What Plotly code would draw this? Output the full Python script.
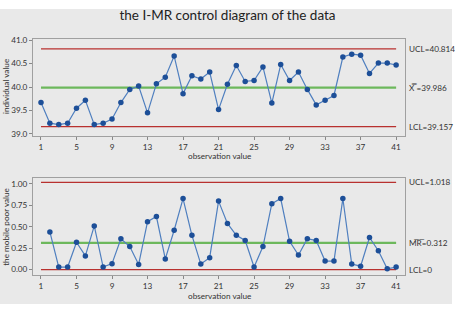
import plotly.graph_objects as go

obs = list(range(1, 42))
individual = [39.67, 39.23, 39.20, 39.23, 39.55, 39.72, 39.20, 39.23, 39.32, 39.67,
              39.95, 40.02, 39.45, 40.07, 40.21, 40.66, 39.86, 40.24, 40.17, 40.32,
              39.52, 40.06, 40.46, 40.12, 40.14, 40.43, 39.66, 40.48, 40.14, 40.32,
              39.95, 39.62, 39.72, 39.82, 40.64, 40.70, 40.68, 40.29, 40.51, 40.51, 40.47]
mr_obs = list(range(2, 42))
moving_range = [0.44, 0.03, 0.03, 0.32, 0.16, 0.51, 0.03, 0.07, 0.36, 0.27,
                0.06, 0.56, 0.62, 0.125, 0.46, 0.83, 0.40, 0.065, 0.14, 0.80,
                0.54, 0.40, 0.34, 0.03, 0.27, 0.77, 0.83, 0.33, 0.17, 0.36,
                0.34, 0.10, 0.10, 0.83, 0.065, 0.04, 0.375, 0.22, 0.01, 0.03]
i_ucl, i_mean, i_lcl = 40.814, 39.986, 39.157
mr_ucl, mr_mean, mr_lcl = 1.018, 0.312, 0.0
x_ticks = [1, 5, 9, 13, 17, 21, 25, 29, 33, 37, 41]
i_ticks = [39.0, 39.5, 40.0, 40.5, 41.0]
mr_ticks = [0.0, 0.25, 0.5, 0.75, 1.0]

RED = "#b8312f"
GREEN = "#6db85c"
LINE_BLUE = "#4f7fbf"
MARK_BLUE = "#1d4f98"
FONT = "Lato"
SMALL = 8.2

fig = go.Figure()

def limit(xs, y, color, width, xa, ya):
    fig.add_trace(go.Scatter(x=[xs[0], xs[-1]], y=[y, y], mode="lines",
                             line=dict(color=color, width=width),
                             xaxis=xa, yaxis=ya, hoverinfo="skip"))

limit(obs, i_ucl, RED, 1.3, "x", "y")
limit(obs, i_lcl, RED, 1.3, "x", "y")
limit(obs, i_mean, GREEN, 2.2, "x", "y")
fig.add_trace(go.Scatter(x=obs, y=individual, mode="lines+markers",
                         line=dict(color=LINE_BLUE, width=1.2),
                         marker=dict(color=MARK_BLUE, size=5.5),
                         xaxis="x", yaxis="y"))

limit(obs, mr_ucl, RED, 1.3, "x2", "y2")
limit(obs, mr_lcl, RED, 1.3, "x2", "y2")
limit(obs, mr_mean, GREEN, 2.2, "x2", "y2")
fig.add_trace(go.Scatter(x=mr_obs, y=moving_range, mode="lines+markers",
                         line=dict(color=LINE_BLUE, width=1.2),
                         marker=dict(color=MARK_BLUE, size=5.5),
                         xaxis="x2", yaxis="y2"))

W, H = 455, 311
xdom = [33 / W, 405 / W]
axis_common = dict(showline=True, mirror=True, linecolor="#a0a0a0", linewidth=1,
                   showgrid=False, zeroline=False, ticks="outside", ticklen=3,
                   tickcolor="#888", tickfont=dict(size=SMALL, color="#333", family=FONT))

fig.update_layout(
    width=W, height=H, margin=dict(l=0, r=0, t=0, b=0),
    paper_bgcolor="white", plot_bgcolor="white", showlegend=False,
    font=dict(family=FONT, color="#333"),
    xaxis=dict(domain=xdom, range=[0.1, 42.0], tickvals=x_ticks, anchor="y",
               **axis_common),
    yaxis=dict(domain=[1 - 135 / H, 1 - 36 / H], range=[38.958, 41.02],
               tickvals=i_ticks, tickformat=".1f", anchor="x", **axis_common),
    xaxis2=dict(domain=xdom, range=[0.1, 42.0], tickvals=x_ticks, anchor="y2",
                **axis_common),
    yaxis2=dict(domain=[1 - 277 / H, 1 - 178 / H], range=[-0.06, 1.07],
                tickvals=mr_ticks, tickformat=".2f", anchor="x2", **axis_common),
    shapes=[dict(type="rect", xref="paper", yref="paper", x0=0, x1=452 / W,
                 y0=1 - 307 / H, y1=1 - 5 / H, fillcolor="#e9e9e9",
                 line=dict(width=0), layer="below")],
    title=dict(text="the I-MR control diagram of the data", x=0.5, xanchor="center",
               y=1 - 15 / H, yanchor="middle",
               font=dict(size=13.5, color="#222", family=FONT)),
)

title_font = dict(size=SMALL, color="#333", family=FONT)
for txt, px, py, ang in [("observation value", 219, 156, 0),
                         ("observation value", 219, 299, 0),
                         ("individual value", 6, 85, -90),
                         ("the mobile poor value", 6, 228, -90)]:
    fig.add_annotation(text=txt, xref="paper", yref="paper", x=px / W, y=1 - py / H,
                       xanchor="center", yanchor="middle", textangle=ang,
                       showarrow=False, font=title_font)

ann_font = dict(size=SMALL, color="#333", family=FONT)
for txt, yv, ya in [("UCL=40.814", i_ucl, "y"), ("X\u033F =39.986", i_mean, "y"),
                    ("LCL=39.157", i_lcl, "y"), ("UCL=1.018", mr_ucl, "y2"),
                    ("M\u0305R\u0305=0.312", mr_mean, "y2"), ("LCL=0", mr_lcl, "y2")]:
    fig.add_annotation(text=txt, xref="paper", x=407 / W, xanchor="left",
                       yref=ya, y=yv, yanchor="middle", showarrow=False, font=ann_font)

fig.write_html("out.html")
